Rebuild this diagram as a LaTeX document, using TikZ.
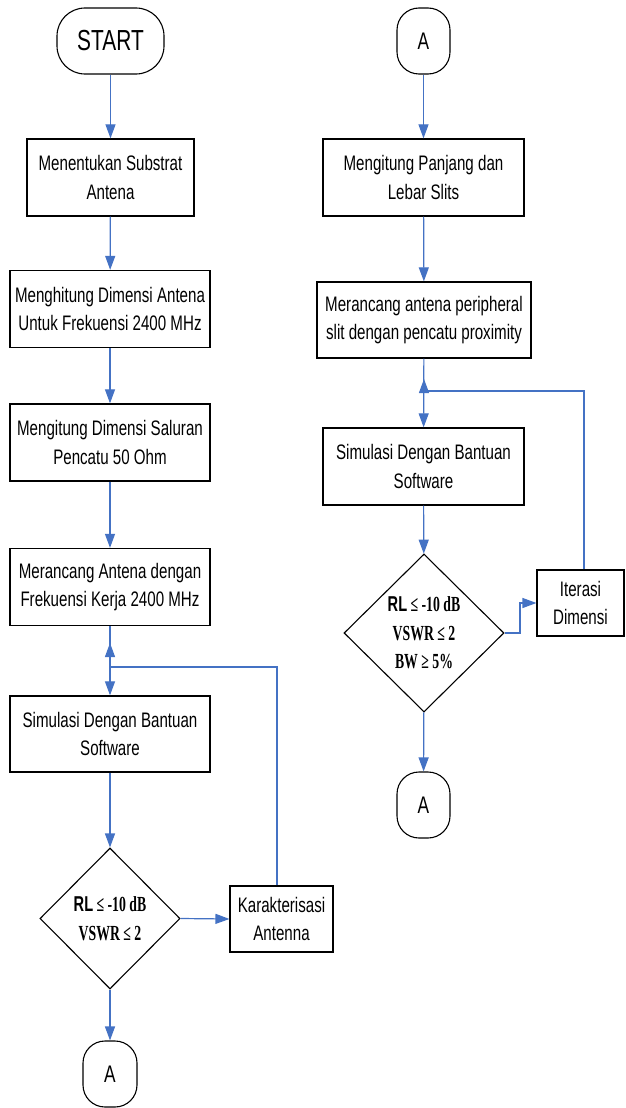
\documentclass[tikz,border=0pt]{standalone}
\usepackage{fontspec}
\setmainfont{Liberation Sans}[FakeStretch=0.72]
\newfontfamily\serifbold{Liberation Serif}[FakeStretch=0.64,BoldFont={Liberation Serif Bold}]
\newfontfamily\sansbold{Liberation Sans}[FakeStretch=0.68]
\usetikzlibrary{shapes.geometric,arrows.meta}
\definecolor{flowblue}{RGB}{68,114,196}
\tikzset{
  procbox/.style={draw=black,line width=1.3pt,rectangle,inner sep=0pt,align=center,font=\fontsize{21}{28.5}\selectfont},
  termbox/.style={draw=black,line width=1.1pt,rectangle,rounded corners=22pt,inner sep=0pt},
  decbox/.style={draw=black,line width=1.1pt,diamond,aspect=1,inner sep=0pt,align=center,font=\fontsize{21.5}{28.5}\selectfont\serifbold\bfseries},
  flow/.style={draw=flowblue,line width=1.2pt,-{Triangle[length=14pt,width=10pt]}}
}
\begin{document}
\begin{tikzpicture}[x=1pt,y=-1pt]
\useasboundingbox (0,0) rectangle (625,1108);
% left column
\node[termbox,rounded corners=28pt,minimum width=107pt,minimum height=66pt,font=\fontsize{29}{30}\selectfont] (start) at (110.5,41) {START};
\node[procbox,minimum width=167pt,minimum height=77pt] (b1) at (110.5,177.5) {Menentukan Substrat\\Antena};
\node[procbox,minimum width=200pt,minimum height=77pt] (b2) at (110,309) {Menghitung Dimensi Antena\\Untuk Frekuensi 2400 MHz};
\node[procbox,minimum width=200pt,minimum height=77pt] (b3) at (110,442.5) {Mengitung Dimensi Saluran\\Pencatu 50 Ohm};
\node[procbox,minimum width=200pt,minimum height=77pt] (b4) at (110,587) {Merancang Antena dengan\\Frekuensi Kerja 2400 MHz};
\node[procbox,minimum width=200pt,minimum height=76pt] (b5) at (110,734) {Simulasi Dengan Bantuan\\Software};
\node[decbox,minimum width=140pt,minimum height=141pt] (d1) at (110,918.5) {{\sansbold\bfseries RL} ≤ -10 dB\\VSWR ≤ 2};
\node[procbox,minimum width=103pt,minimum height=66pt,line width=1.1pt] (kar) at (281.5,919) {Karakterisasi\\Antenna};
\node[termbox,rounded corners=22pt,minimum width=54pt,minimum height=66pt,font=\fontsize{24}{25}\selectfont] (a1) at (110,1074) {A};
\coordinate (jl) at (110,667);
\coordinate (tl) at (110,643);
% right column
\node[termbox,rounded corners=22pt,minimum width=53pt,minimum height=66pt,font=\fontsize{24}{25}\selectfont] (a2) at (423.5,41) {A};
\node[procbox,minimum width=201pt,minimum height=77pt] (r1) at (423.5,177.5) {Mengitung Panjang dan\\Lebar Slits};
\node[procbox,minimum width=214pt,minimum height=76pt] (r2) at (424,320) {Merancang antena peripheral\\slit dengan pencatu proximity};
\node[procbox,minimum width=201pt,minimum height=77pt] (r3) at (423.5,466.5) {Simulasi Dengan Bantuan\\Software};
\node[decbox,minimum width=160pt,minimum height=158pt] (d2) at (424,633) {{\sansbold\bfseries RL} ≤ -10 dB\\VSWR ≤ 2\\BW ≥ 5\%};
\node[procbox,minimum width=87pt,minimum height=66pt,line width=1.1pt] (it) at (580.5,603) {Iterasi\\Dimensi};
\node[termbox,rounded corners=22pt,minimum width=53pt,minimum height=66pt,font=\fontsize{24}{25}\selectfont] (a3) at (423.5,805) {A};
\coordinate (jr) at (424,391);
\coordinate (tr) at (424,379);
\coordinate (er) at (520,633);
% connectors left
\draw[flow] (start) -- (b1);
\draw[flow] (b1) -- (b2);
\draw[flow] (b2) -- (b3);
\draw[flow] (b3) -- (b4);
\draw[flow] (b4) -- (b5);
\draw[flow] (b5) -- (d1);
\draw[flow] (d1) -- (a1);
\draw[flow] (d1.east) -- (kar.west);
\draw[flow] ([xshift=-4.5pt]kar.north) |- (jl) -- (tl);
% connectors right
\draw[flow] (a2) -- (r1);
\draw[flow] (r1) -- (r2);
\draw[flow] (r2) -- (r3);
\draw[flow] (r3) -- (d2);
\draw[flow] (d2) -- (a3);
\draw[flow] (d2.east) -- (er) |- (it.west);
\draw[flow] ([xshift=3.5pt]it.north) |- (jr) -- (tr);
\end{tikzpicture}
\end{document}
